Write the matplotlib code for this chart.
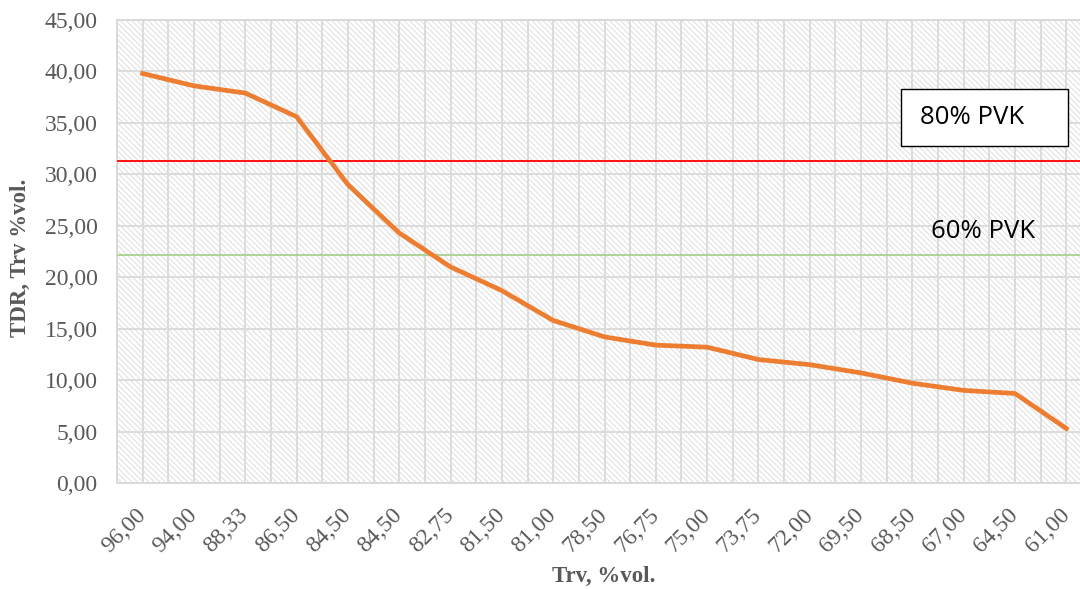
import numpy as np
import matplotlib
matplotlib.use("Agg")
import matplotlib.pyplot as plt
from matplotlib.patches import Rectangle
from matplotlib.ticker import FuncFormatter, MultipleLocator

# data
trv_labels = ["96,00", "94,00", "88,33", "86,50", "84,50", "84,50", "82,75", "81,50",
              "81,00", "78,50", "76,75", "75,00", "73,75", "72,00", "69,50", "68,50",
              "67,00", "64,50", "61,00"]
tdr_values = [39.8, 38.6, 37.9, 35.6, 29.0, 24.3, 21.0, 18.7, 15.8, 14.2,
              13.4, 13.2, 12.0, 11.5, 10.7, 9.7, 9.0, 8.7, 5.3]
pvk80_level = 31.3
pvk60_level = 22.15

plt.rcParams["font.family"] = ["Liberation Serif", "DejaVu Serif"]
plt.rcParams["hatch.color"] = "#dedede"
plt.rcParams["hatch.linewidth"] = 0.7

W, H = 1080, 589
fig = plt.figure(figsize=(W / 100, H / 100), dpi=100)
ax = fig.add_axes([117 / W, 1 - 483 / H, 975 / W, 463 / H])

x = np.arange(len(trv_labels))

# hatched plot area like the Excel pattern fill
ax.patch.set_facecolor("white")
ax.patch.set_hatch("\\" * 6)
ax.patch.set_edgecolor("#dedede")

ax.set_xlim(-0.5, len(trv_labels) - 0.5)
ax.set_ylim(0, 45)

ax.set_xticks(x)
ax.set_xticklabels(trv_labels)
ax.xaxis.set_minor_locator(MultipleLocator(0.5))
ax.yaxis.set_major_locator(MultipleLocator(5))
ax.yaxis.set_major_formatter(FuncFormatter(lambda v, p: f"{v:.2f}".replace(".", ",")))

ax.grid(True, which="both", axis="x", color="#dcdcdc", lw=1.4)
ax.grid(True, which="major", axis="y", color="#dcdcdc", lw=1.4)
ax.set_axisbelow(True)

for s in ax.spines.values():
    s.set_color("#d9d9d9")
    s.set_linewidth(1.4)

ax.tick_params(axis="both", which="both", length=0, colors="#595959", labelsize=17)
ax.tick_params(axis="y", pad=14)
ax.tick_params(axis="x", pad=21)
for lbl in ax.get_xticklabels():
    lbl.set_rotation(45)
    lbl.set_ha("right")
    lbl.set_va("center")
    lbl.set_rotation_mode("anchor")

ax.axhline(pvk80_level, color="#ff0000", lw=1.3, zorder=3)
ax.axhline(pvk60_level, color="#a9d18e", lw=1.3, zorder=3)

ax.plot(x, tdr_values, color="#ed7d31", lw=3.4, solid_joinstyle="round", zorder=4)

ax.set_xlabel("Trv, %vol.", fontsize=16.5, fontweight="bold", color="#595959", va="center")
ax.set_ylabel("TDR, Trv %vol.", fontsize=16.5, fontweight="bold", color="#595959", va="center")
ax.xaxis.set_label_coords((604 - 117) / 975, -(576 - 483) / 463)
ax.yaxis.set_label_coords(-(117 - 20) / 975, (483 - 258) / 463)

# text box for the 80% PVK line
fig.add_artist(Rectangle((901 / W, 1 - 146 / H), 167 / W, 57 / H, transform=fig.transFigure,
                         fc="white", ec="black", lw=1.0, zorder=5))
fig.text(920 / W, 1 - 118 / H, "80% PVK", fontsize=18.5, family="Open Sans",
         ha="left", va="center", color="black", zorder=6)
fig.text(931 / W, 1 - 232 / H, "60% PVK", fontsize=18.5, family="Open Sans",
         ha="left", va="center", color="black")

fig.savefig("out.png", dpi=100)
